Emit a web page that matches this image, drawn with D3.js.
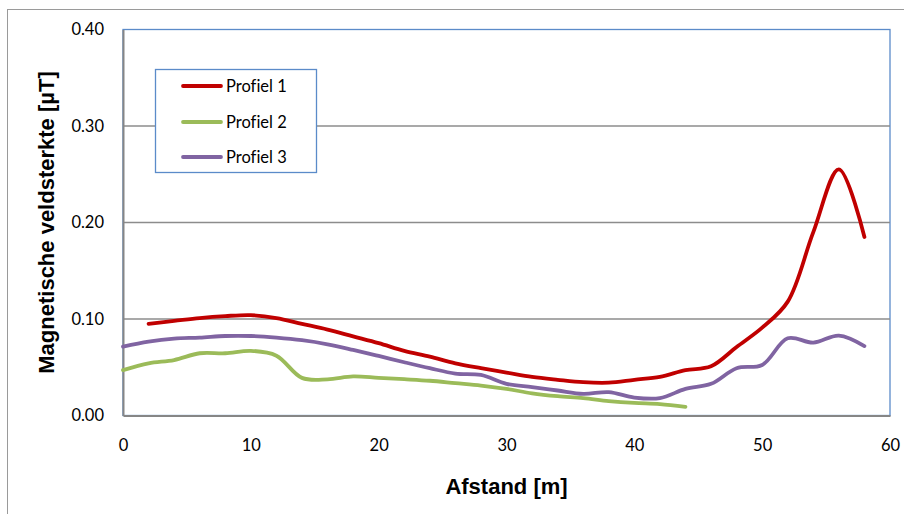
<!DOCTYPE html>
<html><head><meta charset="utf-8">
<script src="https://cdn.jsdelivr.net/npm/d3@7"></script>
<style>html,body{margin:0;padding:0;background:#fff;}svg{display:block;}text{font-variant-ligatures:none;font-feature-settings:"liga" 0;}</style>
</head><body>
<script>
const xs1 = [2,4,6,8,10,12,14,16,18,20,22,24,26,28,30,32,34,36,38,40,42,44,46,48,50,52,54,56,58];
const profiel1 = [0.095,0.098,0.101,0.103,0.104,0.101,0.095,0.089,0.082,0.075,0.067,0.061,0.054,0.049,0.0445,0.040,0.037,0.0345,0.034,0.037,0.040,0.047,0.051,0.071,0.091,0.118,0.19,0.255,0.185];
const xs2 = [0,2,4,6,8,10,12,14,16,18,20,22,24,26,28,30,32,34,36,38,40,42,44];
const profiel2 = [0.047,0.054,0.0575,0.0645,0.0645,0.067,0.062,0.039,0.0375,0.0405,0.039,0.0376,0.036,0.0335,0.031,0.0276,0.023,0.020,0.018,0.015,0.013,0.0118,0.009];
const xs3 = [0,2,4,6,8,10,12,14,16,18,20,22,24,26,28,30,32,34,36,38,40,42,44,46,48,50,52,54,56,58];
const profiel3 = [0.0714,0.0766,0.0797,0.0807,0.0824,0.0824,0.0807,0.078,0.0738,0.068,0.0617,0.0552,0.049,0.0435,0.042,0.0328,0.0294,0.0259,0.0224,0.0242,0.0186,0.018,0.0276,0.0328,0.049,0.0524,0.080,0.0755,0.0828,0.072];
const seriesNames = ["Profiel 1","Profiel 2","Profiel 3"];
const seriesColors = ["#C00000","#9BBB59","#8064A2"];
const yTicks = [0,0.1,0.2,0.3,0.4];
const xTicks = [0,10,20,30,40,50,60];
const xTitle = "Afstand [m]";
const yTitle = "Magnetische veldsterkte [µT]";

const W = 904, H = 514;
const L = 123, R = 890, T = 29.5, B = 415.5;
const svg = d3.select("body").append("svg").attr("width", W).attr("height", H);

svg.append("rect").attr("x",7.5).attr("y",9.5).attr("width",1000).attr("height",1000)
  .attr("fill","none").attr("stroke","#9a9a9a").attr("stroke-width",1);

const x = d3.scaleLinear().domain([0,60]).range([L,R]);
const y = d3.scaleLinear().domain([0,0.4]).range([B,T]);

svg.append("rect").attr("x",L).attr("y",T).attr("width",R-L).attr("height",B-T)
  .attr("fill","none").attr("stroke","#5B8BC9").attr("stroke-width",1.3);

svg.append("g").selectAll("line").data(yTicks.filter(d=>d>0 && d<0.4)).join("line")
  .attr("x1",L).attr("x2",R).attr("y1",d=>y(d)).attr("y2",d=>y(d))
  .attr("stroke","#8c8c8c").attr("stroke-width",1.3);

const tickFont = "Lato, 'Open Sans', sans-serif";
const yAxis = d3.axisLeft(y).tickValues(yTicks).tickFormat(d3.format(".2f")).tickSize(0).tickPadding(19);
const gy = svg.append("g").attr("transform",`translate(${L},0)`).call(yAxis);
gy.select(".domain").attr("stroke","#868686").attr("stroke-width",2);
gy.selectAll("text").attr("font-family",tickFont).attr("font-size",16.5).attr("fill","#000");

const xAxis = d3.axisBottom(x).tickValues(xTicks).tickSize(0).tickPadding(24);
const gx = svg.append("g").attr("transform",`translate(0,${B})`).call(xAxis);
gx.select(".domain").attr("stroke","#868686").attr("stroke-width",2);
gx.selectAll("text").attr("font-family",tickFont).attr("font-size",16.5).attr("fill","#000");

const line = d3.line().x(d=>x(d[0])).y(d=>y(d[1])).curve(d3.curveCatmullRom.alpha(0.5));
const data = [d3.zip(xs1,profiel1), d3.zip(xs2,profiel2), d3.zip(xs3,profiel3)];
[1,2,0].forEach(i=>{
  svg.append("path").datum(data[i]).attr("d",line).attr("fill","none")
    .attr("stroke",seriesColors[i]).attr("stroke-width",3.8).attr("stroke-linecap","round").attr("stroke-linejoin","round");
});

const lg = svg.append("g");
lg.append("rect").attr("x",155.5).attr("y",69.5).attr("width",161).attr("height",103)
  .attr("fill","#fff").attr("stroke","#5B8BC9").attr("stroke-width",1.3);
const rowsY = [86,122,157];
seriesNames.forEach((n,i)=>{
  lg.append("line").attr("x1",183).attr("x2",221).attr("y1",rowsY[i]).attr("y2",rowsY[i])
    .attr("stroke",seriesColors[i]).attr("stroke-width",3.8).attr("stroke-linecap","round");
  lg.append("text").attr("x",226).attr("y",rowsY[i]).attr("dy","0.35em")
    .attr("font-family",tickFont).attr("font-size",16.5).attr("fill","#000").text(n);
});

svg.append("text").attr("x",(L+R)/2).attr("y",494).attr("text-anchor","middle")
  .attr("font-family","'Liberation Sans', Arial, sans-serif").attr("font-weight","bold").attr("font-size",22).text(xTitle);
svg.append("text").attr("transform",`translate(54,${(T+B)/2}) rotate(-90)`).attr("text-anchor","middle")
  .attr("font-family","'Liberation Sans', Arial, sans-serif").attr("font-weight","bold").attr("font-size",22).text(yTitle);
</script>
</body></html>
